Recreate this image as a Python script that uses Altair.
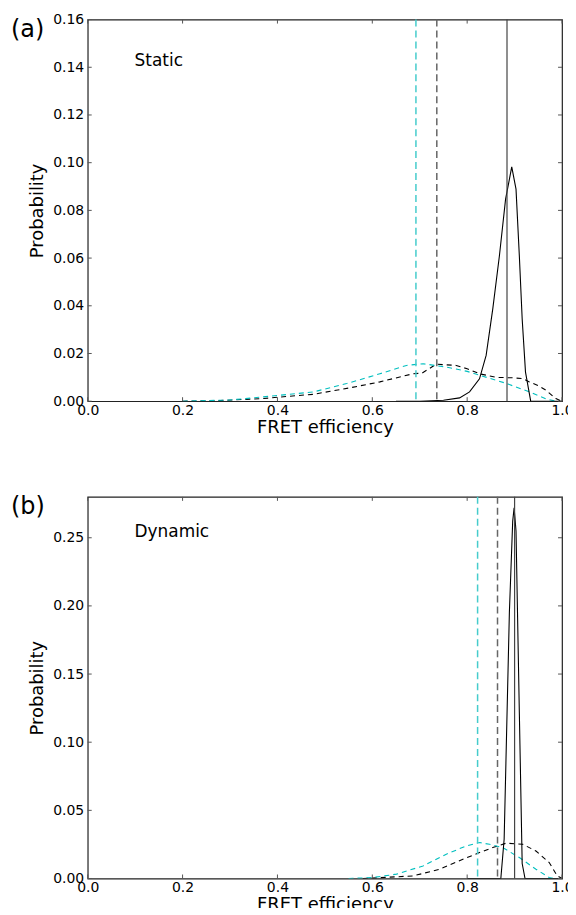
import altair as alt
import pandas as pd

# ---------------- data ----------------
x_ticks = [0.0, 0.2, 0.4, 0.6, 0.8, 1.0]
static_y_ticks = [0.00, 0.02, 0.04, 0.06, 0.08, 0.10, 0.12, 0.14, 0.16]
dynamic_y_ticks = [0.00, 0.05, 0.10, 0.15, 0.20, 0.25]

# Static panel
static_solid_x = [0.65, 0.70, 0.75, 0.784, 0.805, 0.826, 0.840, 0.854, 0.868, 0.881, 0.894, 0.903, 0.910, 0.916, 0.923, 0.934, 0.95, 1.0]
static_solid_y = [0.0, 0.0, 0.0004, 0.0014, 0.0039, 0.0094, 0.0192, 0.0387, 0.061, 0.0847, 0.0982, 0.0889, 0.061, 0.0345, 0.0122, 0.0, 0.0, 0.0]
static_black_x = [0.20, 0.28, 0.37, 0.42, 0.476, 0.55, 0.616, 0.686, 0.705, 0.735, 0.777, 0.80, 0.826, 0.861, 0.896, 0.917, 0.931, 0.952, 0.966, 0.987, 1.0]
static_black_y = [0.0, 0.0003, 0.0011, 0.002, 0.0029, 0.0055, 0.0081, 0.0115, 0.0118, 0.0155, 0.0150, 0.0136, 0.0115, 0.0100, 0.0098, 0.0095, 0.0081, 0.0063, 0.0046, 0.0011, 0.0]
static_cyan_x = [0.20, 0.30, 0.37, 0.42, 0.476, 0.546, 0.616, 0.672, 0.707, 0.756, 0.80, 0.826, 0.882, 0.931, 0.966, 0.987]
static_cyan_y = [0.0, 0.0005, 0.0018, 0.0028, 0.0039, 0.0074, 0.0115, 0.0150, 0.0157, 0.0143, 0.0125, 0.0109, 0.0075, 0.0039, 0.0010, 0.0]
static_vlines = [0.692, 0.736, 0.884]

# Dynamic panel
dynamic_solid_x = [0.80, 0.871, 0.878, 0.889, 0.896, 0.899, 0.903, 0.910, 0.916, 0.922, 0.95, 1.0]
dynamic_solid_y = [0.0, 0.0, 0.029, 0.195, 0.262, 0.272, 0.255, 0.122, 0.011, 0.0, 0.0, 0.0]
dynamic_black_x = [0.58, 0.60, 0.686, 0.742, 0.791, 0.826, 0.854, 0.882, 0.917, 0.945, 0.973, 0.990, 1.0]
dynamic_black_y = [0.0, 0.0003, 0.0019, 0.0068, 0.0141, 0.0190, 0.0227, 0.0259, 0.0251, 0.0202, 0.0117, 0.0019, 0.0]
dynamic_cyan_x = [0.55, 0.601, 0.651, 0.707, 0.756, 0.798, 0.826, 0.847, 0.875, 0.910, 0.945, 0.973, 0.985]
dynamic_cyan_y = [0.0, 0.0007, 0.0032, 0.0092, 0.0178, 0.0239, 0.0264, 0.0251, 0.0227, 0.0154, 0.0068, 0.0007, 0.0]
dynamic_vlines = [0.822, 0.864, 0.900]

# ---------------- styling ----------------
W, H = 476, 383
FONT = "DejaVu Sans"
CYAN = "#00bfbf"
CYAN_V = "#45cccc"
GRAY_V = "#666666"
SOLID_V = "#444444"
TICK_C = "#555555"


def panel(letter, name, name_y, ymax, yticks, yfmt,
          solid_x, solid_y, black_x, black_y, cyan_x, cyan_y, vlines):
    xs = alt.Scale(domain=[0, 1], nice=False, zero=False)
    ys = alt.Scale(domain=[0, ymax], nice=False, zero=False)
    xax = alt.Axis(values=x_ticks, format=".1f", title="FRET efficiency",
                   grid=False, tickSize=0, labelPadding=2, domain=False,
                   labelFontSize=14, titleFontSize=18, titlePadding=1,
                   labelFont=FONT, titleFont=FONT, labelColor="black",
                   titleColor="black", titleFontWeight="normal", labelFlush=False)
    yax = alt.Axis(values=yticks, format=yfmt, title="Probability",
                   grid=False, tickSize=0, labelPadding=4, domain=False,
                   labelFontSize=14, titleFontSize=18, titlePadding=6,
                   labelFont=FONT, titleFont=FONT, labelColor="black",
                   titleColor="black", titleFontWeight="normal", labelFlush=False)
    X = alt.X("x:Q", scale=xs, axis=xax)
    Y = alt.Y("y:Q", scale=ys, axis=yax)

    def line(xv, yv, color, dash=None):
        df = pd.DataFrame({"x": xv, "y": yv})
        kw = dict(color=color, strokeWidth=1.1, clip=True)
        if dash:
            kw["strokeDash"] = dash
        return alt.Chart(df).mark_line(**kw).encode(x=X, y=Y)

    vdf = pd.DataFrame({"x": vlines, "kind": ["cyan", "gray", "solid"]})
    v_cyan = alt.Chart(vdf[vdf.kind == "cyan"]).mark_rule(color=CYAN_V, strokeDash=[7, 4], strokeWidth=1.5).encode(x=X)
    v_gray = alt.Chart(vdf[vdf.kind == "gray"]).mark_rule(color=GRAY_V, strokeDash=[7, 4], strokeWidth=1.5).encode(x=X)
    v_solid = alt.Chart(vdf[vdf.kind == "solid"]).mark_rule(color=SOLID_V, strokeWidth=1.2).encode(x=X)

    xt = pd.DataFrame({"x": x_ticks})
    yt = pd.DataFrame({"y": yticks})
    tb = alt.Chart(xt).mark_rule(color=TICK_C).encode(x=X, y=alt.value(H), y2=alt.value(H - 4))
    tt = alt.Chart(xt).mark_rule(color=TICK_C).encode(x=X, y=alt.value(0), y2=alt.value(4))
    tl = alt.Chart(yt).mark_rule(color=TICK_C).encode(y=Y, x=alt.value(0), x2=alt.value(4))
    tr = alt.Chart(yt).mark_rule(color=TICK_C).encode(y=Y, x=alt.value(W), x2=alt.value(W - 4))

    lab = pd.DataFrame({"t": [letter]})
    letter_t = alt.Chart(lab).mark_text(align="left", baseline="middle", font=FONT,
                                        fontSize=24, color="black").encode(
        text="t:N", x=alt.value(-77), y=alt.value(10))
    nm = pd.DataFrame({"t": [name]})
    name_t = alt.Chart(nm).mark_text(align="left", baseline="middle", font=FONT,
                                     fontSize=17, color="black").encode(
        text="t:N", x=alt.value(47), y=alt.value(name_y))

    return alt.layer(
        line(black_x, black_y, "black", [5, 4]),
        line(cyan_x, cyan_y, CYAN, [5, 4]),
        line(solid_x, solid_y, "black"),
        v_cyan, v_gray, v_solid,
        tb, tt, tl, tr,
        letter_t, name_t,
    ).properties(width=W, height=H)


top = panel("(a)", "Static", 42, 0.16, static_y_ticks, ".2f",
            static_solid_x, static_solid_y, static_black_x, static_black_y,
            static_cyan_x, static_cyan_y, static_vlines)
bottom = panel("(b)", "Dynamic", 35, 0.28, dynamic_y_ticks, ".2f",
               dynamic_solid_x, dynamic_solid_y, dynamic_black_x, dynamic_black_y,
               dynamic_cyan_x, dynamic_cyan_y, dynamic_vlines)

chart = alt.vconcat(top, bottom, spacing=57).properties(
    padding={"left": 2, "top": 2, "right": -6, "bottom": -8},
    background="white",
).configure_view(stroke="#222222", strokeWidth=1.2)

chart.save("out.html", embed_options={"renderer": "svg", "actions": False})
